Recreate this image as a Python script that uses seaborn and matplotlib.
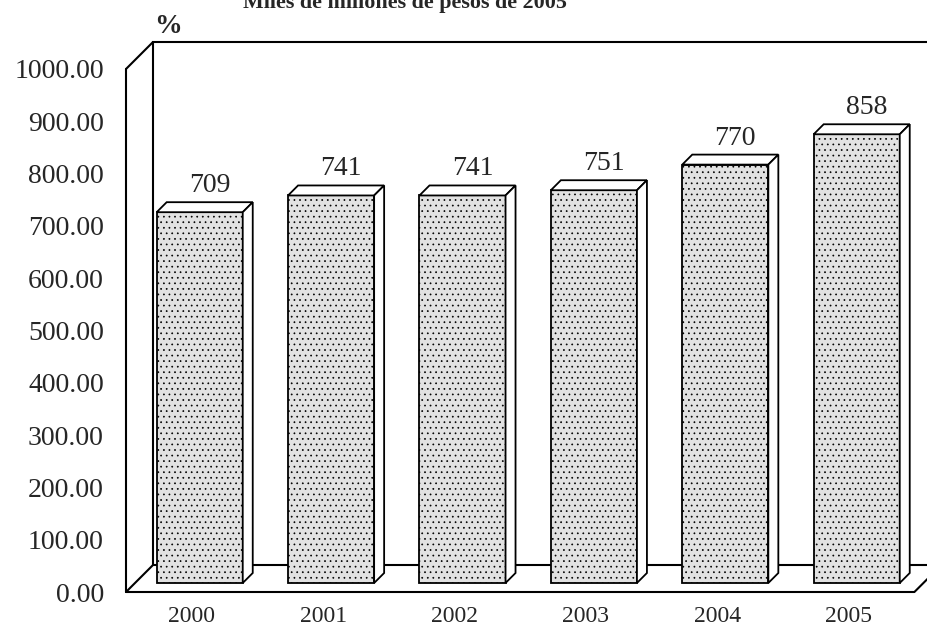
import matplotlib
matplotlib.use("Agg")
import matplotlib.pyplot as plt
from matplotlib.patches import Polygon
from matplotlib.transforms import ScaledTranslation, IdentityTransform
import seaborn as sns
import pandas as pd

# ── data ──────────────────────────────────────────────────────────────
years = ["2000", "2001", "2002", "2003", "2004", "2005"]
heights = [709, 741, 741, 751, 800, 858]          # drawn bar heights
value_labels = ["709", "741", "741", "751", "770", "858"]
yticks = [0, 100, 200, 300, 400, 500, 600, 700, 800, 900, 1000]
title = "Miles de millones de pesos de 2005"
unit_label = "%"

# ── style ─────────────────────────────────────────────────────────────
sns.set_style("white")
plt.rcParams["font.family"] = ["Liberation Serif", "DejaVu Serif"]
plt.rcParams["hatch.color"] = "#b8b8b8"
plt.rcParams["hatch.linewidth"] = 0.5

fig = plt.figure(figsize=(9.28, 6.27), dpi=100)
ax = fig.add_axes([126 / 928, 35 / 627, 788.4 / 928, 523 / 627])
ax.set_xlim(-0.5, 5.5)
ax.set_ylim(0, 1000)


def shift(dx, dy):
    # pixel offset on top of data coords (fake 3d depth)
    return ScaledTranslation(dx / fig.dpi, dy / fig.dpi, fig.dpi_scale_trans)


BAR_OFF = (8, 9)     # bar front face vs. front plane
DEPTH = (10, 10)     # bar thickness
WALL = (27, 27)      # back wall vs. front plane
LW = 1.5
ident = IdentityTransform()

# ── walls & floor ─────────────────────────────────────────────────────
fbl, ftl, fbr, ftr = ax.transData.transform([(-0.5, 0), (-0.5, 1000), (5.5, 0), (5.5, 1000)])
wx, wy = WALL
back = Polygon([(fbl[0] + wx, fbl[1] + wy), (ftl[0] + wx, ftl[1] + wy),
                (ftr[0] + wx, ftr[1] + wy), (fbr[0] + wx, fbr[1] + wy)],
               closed=True, facecolor="white", edgecolor="black", lw=LW,
               transform=ident, clip_on=False, zorder=1)
ax.add_patch(back)

for xs, ys in [
    ([fbl[0], ftl[0]], [fbl[1], ftl[1]]),                       # front left edge
    ([ftl[0], ftl[0] + wx], [ftl[1], ftl[1] + wy]),             # top diagonal
    ([fbl[0], fbl[0] + wx], [fbl[1], fbl[1] + wy]),             # bottom-left diagonal
    ([fbl[0], fbr[0]], [fbl[1], fbr[1]]),                       # front floor edge
    ([fbr[0], fbr[0] + wx], [fbr[1], fbr[1] + wy]),             # right floor diagonal
]:
    ax.plot(xs, ys, color="black", lw=LW, transform=ident, clip_on=False, zorder=2)

# ── bars ──────────────────────────────────────────────────────────────
df = pd.DataFrame({"year": years, "value": heights})
sns.barplot(data=df, x="year", y="value", ax=ax, color="#e2e2e2", saturation=1,
            width=0.655, edgecolor="black", linewidth=1.3, hatch="...",
            zorder=3)

bx, by = BAR_OFF
dx, dy = DEPTH
for p, lab in zip(ax.patches[1:], value_labels):
    p.set_transform(ax.transData + shift(bx, by))
    p.set_clip_on(False)
    x0, x1, h = p.get_x(), p.get_x() + p.get_width(), p.get_height()
    (ax0, ay0), (ax1, ay1) = ax.transData.transform([(x0, 0), (x1, h)])
    ax0, ax1, ay0, ay1 = ax0 + bx, ax1 + bx, ay0 + by, ay1 + by
    top = [(ax0, ay1), (ax1, ay1), (ax1 + dx, ay1 + dy), (ax0 + dx, ay1 + dy)]
    side = [(ax1, ay0), (ax1, ay1), (ax1 + dx, ay1 + dy), (ax1 + dx, ay0 + dy)]
    for pts in (top, side):
        ax.add_patch(Polygon(pts, closed=True, facecolor="white", edgecolor="black",
                             lw=1.3, transform=ident, clip_on=False, zorder=3))
    ax.text(x0 + p.get_width() / 2, h, lab, transform=ax.transData + shift(bx + 10, by + 20),
            ha="center", va="baseline", fontsize=20, zorder=4)

# ── axes / text ───────────────────────────────────────────────────────
ax.set_xlim(-0.5, 5.5)
ax.set_ylim(0, 1000)
ax.set_yticks(yticks)
ax.set_yticklabels([f"{v:.2f}" for v in yticks], fontsize=20)
ax.tick_params(axis="y", length=0, pad=16)
ax.tick_params(axis="x", length=0, pad=10, labelsize=17)
ax.set_xlabel("")
ax.set_ylabel("")
for s in ax.spines.values():
    s.set_visible(False)
ax.patch.set_alpha(0)

# title sits partly above the page edge, as in the source image
fig.text(405 / 928, 619 / 627, title, ha="center", va="baseline",
         fontsize=15.8, fontweight="bold")
fig.text(154 / 928, 594 / 627, unit_label, ha="left", va="baseline",
         fontsize=20, fontweight="bold")

fig.savefig("out.png", dpi=100, facecolor="white")
